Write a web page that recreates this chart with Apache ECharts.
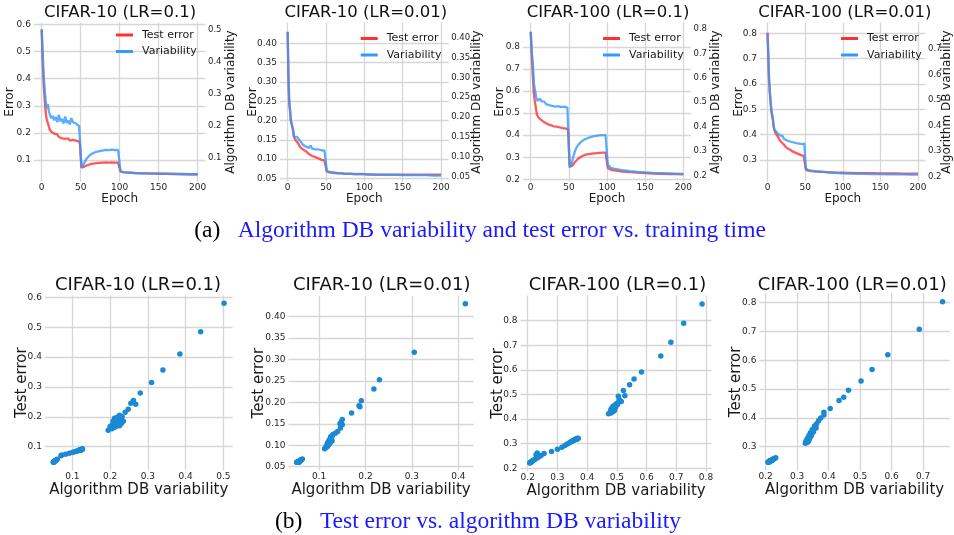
<!DOCTYPE html>
<html><head><meta charset="utf-8">
<script src="https://cdn.jsdelivr.net/npm/echarts@6/dist/echarts.min.js"></script>
<style>html,body{margin:0;padding:0;background:#fff}#c{width:954px;height:535px}</style>
</head><body><div id="c"></div>
<script>
// ---------- DATA ----------
const epochs = [0,1,2,3,4,5,6,7,8,9,10,
  12,14,16,18,20,22,24,26,28,30,32,34,36,38,40,42,44,46,48,
  49,50,51,52,
  54,56,58,60,62,64,66,68,70,72,74,76,78,80,82,84,86,88,90,92,94,96,98,
  99,100,101,102,105,110,
  120,130,140,150,160,170,180,190,200];

const panelTitles = ['CIFAR-10 (LR=0.1)', 'CIFAR-10 (LR=0.01)', 'CIFAR-100 (LR=0.1)', 'CIFAR-100 (LR=0.01)'];

// CIFAR-10, LR=0.1
const errC10a = [0.580,0.485,0.410,0.357,0.315,0.280,0.255,0.245,0.242,0.225,0.215,
  0.205,0.200,0.198,0.192,0.195,0.185,0.190,0.180,0.185,0.178,0.175,0.180,0.172,0.170,0.175,0.168,0.172,0.165,0.168,
  0.160,0.155,0.072,0.070,
  0.075,0.078,0.081,0.083,0.085,0.086,0.087,0.088,0.089,0.089,0.090,0.089,0.091,0.090,0.092,0.090,0.091,0.089,0.092,0.090,0.091,0.089,0.091,
  0.090,0.092,0.058,0.056,0.055,0.054,
  0.052,0.051,0.051,0.050,0.050,0.049,0.049,0.048,0.048];
const varC10a = [0.502,0.440,0.385,0.340,0.310,0.280,0.262,0.255,0.268,0.248,0.240,
  0.225,0.232,0.218,0.228,0.212,0.235,0.215,0.222,0.208,0.230,0.210,0.218,0.205,0.225,0.212,0.215,0.208,0.212,0.200,
  0.205,0.195,0.072,0.070,
  0.082,0.092,0.100,0.106,0.110,0.114,0.116,0.118,0.120,0.121,0.122,0.120,0.124,0.122,0.126,0.121,0.125,0.122,0.127,0.123,0.125,0.121,0.126,
  0.124,0.126,0.060,0.058,0.057,0.056,
  0.054,0.053,0.052,0.052,0.051,0.051,0.050,0.050,0.050];

// CIFAR-10, LR=0.01
const errC10b = [0.430,0.317,0.253,0.231,0.204,0.192,0.190,0.175,0.160,0.155,0.150,
  0.148,0.140,0.132,0.128,0.125,0.122,0.120,0.118,0.113,0.110,0.108,0.106,0.105,0.103,0.102,0.100,0.098,0.097,0.096,
  0.095,0.092,0.068,0.066,
  0.066,0.065,0.065,0.064,0.064,0.064,0.063,0.063,0.063,0.063,0.062,0.062,0.062,0.062,0.062,0.062,0.061,0.061,0.061,0.061,0.061,0.061,0.061,
  0.061,0.061,0.061,0.060,0.060,0.060,
  0.060,0.060,0.060,0.060,0.060,0.060,0.060,0.060,0.060];
const varC10b = [0.415,0.305,0.230,0.218,0.191,0.186,0.188,0.170,0.150,0.148,0.145,
  0.150,0.146,0.140,0.135,0.130,0.128,0.125,0.127,0.122,0.128,0.120,0.124,0.118,0.122,0.118,0.120,0.116,0.118,0.115,
  0.115,0.112,0.064,0.062,
  0.061,0.060,0.060,0.059,0.059,0.059,0.058,0.058,0.058,0.058,0.057,0.057,0.057,0.057,0.057,0.056,0.056,0.056,0.056,0.056,0.056,0.056,0.056,
  0.056,0.056,0.055,0.055,0.055,0.055,
  0.054,0.054,0.054,0.053,0.053,0.053,0.053,0.052,0.052];

// CIFAR-100, LR=0.1
const errC100a = [0.868,0.790,0.712,0.657,0.592,0.563,0.540,0.516,0.495,0.493,0.480,
  0.472,0.468,0.462,0.458,0.455,0.450,0.452,0.445,0.447,0.440,0.442,0.438,0.440,0.435,0.438,0.432,0.436,0.430,0.428,
  0.425,0.422,0.262,0.255,
  0.260,0.268,0.278,0.286,0.293,0.298,0.302,0.306,0.309,0.311,0.313,0.314,0.315,0.316,0.317,0.318,0.318,0.319,0.320,0.319,0.321,0.320,0.321,
  0.320,0.322,0.252,0.247,0.243,0.240,
  0.235,0.232,0.230,0.228,0.226,0.225,0.224,0.223,0.222];
const varC100a = [0.787,0.725,0.682,0.648,0.583,0.558,0.543,0.522,0.527,0.505,0.508,
  0.515,0.505,0.498,0.502,0.492,0.496,0.488,0.494,0.485,0.490,0.482,0.490,0.484,0.492,0.480,0.488,0.482,0.486,0.478,
  0.480,0.472,0.232,0.228,
  0.255,0.280,0.300,0.315,0.325,0.332,0.338,0.343,0.347,0.350,0.353,0.355,0.357,0.359,0.360,0.362,0.363,0.364,0.365,0.366,0.366,0.367,0.367,
  0.368,0.370,0.245,0.238,0.232,0.228,
  0.222,0.218,0.215,0.213,0.211,0.210,0.209,0.208,0.207];

// CIFAR-100, LR=0.01
const errC100b = [0.803,0.708,0.619,0.568,0.528,0.496,0.472,0.460,0.433,0.420,0.410,
  0.400,0.390,0.380,0.372,0.365,0.360,0.352,0.348,0.343,0.340,0.336,0.333,0.330,0.328,0.325,0.322,0.320,0.318,0.316,
  0.315,0.312,0.262,0.259,
  0.258,0.257,0.256,0.256,0.255,0.255,0.254,0.254,0.253,0.253,0.253,0.252,0.252,0.252,0.251,0.251,0.251,0.251,0.250,0.250,0.250,0.250,0.250,
  0.250,0.250,0.250,0.249,0.249,0.249,
  0.248,0.248,0.248,0.247,0.247,0.247,0.246,0.246,0.246];
const varC100b = [0.762,0.688,0.588,0.538,0.503,0.463,0.448,0.433,0.405,0.385,0.385,
  0.375,0.368,0.362,0.355,0.360,0.348,0.352,0.342,0.346,0.338,0.344,0.335,0.340,0.332,0.338,0.330,0.336,0.328,0.334,
  0.330,0.326,0.232,0.228,
  0.226,0.225,0.224,0.223,0.222,0.222,0.221,0.220,0.220,0.219,0.219,0.218,0.218,0.217,0.217,0.216,0.216,0.215,0.215,0.214,0.214,0.214,0.213,
  0.213,0.213,0.213,0.212,0.212,0.212,
  0.211,0.211,0.210,0.210,0.209,0.209,0.209,0.208,0.208];

const testErrors = [errC10a, errC10b, errC100a, errC100b];
const variabilities = [varC10a, varC10b, varC100a, varC100b];

// tick labels
const epochTicks = [0,50,100,150,200];
const topErrTicks = [[0.1,0.2,0.3,0.4,0.5,0.6],[0.05,0.10,0.15,0.20,0.25,0.30,0.35,0.40],[0.2,0.3,0.4,0.5,0.6,0.7,0.8],[0.3,0.4,0.5,0.6,0.7,0.8]];
const topVarTicks = [[0.1,0.2,0.3,0.4,0.5],[0.05,0.10,0.15,0.20,0.25,0.30,0.35,0.40],[0.2,0.3,0.4,0.5,0.6,0.7,0.8],[0.2,0.3,0.4,0.5,0.6,0.7]];
const botXTicks = [[0.1,0.2,0.3,0.4,0.5],[0.1,0.2,0.3,0.4],[0.2,0.3,0.4,0.5,0.6,0.7,0.8],[0.2,0.3,0.4,0.5,0.6,0.7]];
const botYTicks = [[0.1,0.2,0.3,0.4,0.5,0.6],[0.05,0.10,0.15,0.20,0.25,0.30,0.35,0.40],[0.2,0.3,0.4,0.5,0.6,0.7,0.8],[0.3,0.4,0.5,0.6,0.7,0.8]];
const tickDecimals = [1,2,1,1];

// ---------- LAYOUT / STYLE ----------
const FONT = 'DejaVu Sans';
const GRIDC = '#d6d6d6';
const LBL = '#262626';
const RED = '#ff3030', BLUE = '#3399ff', DOT = '#1a8ad4';

const topLayout = [
  {left:33.9, width:171.6, errRange:[0.0214,0.6066], varRange:[0.0275,0.5225], errGap:18, varGap:19, legendLeft:116, legendTop:28, title:120},
  {left:280.0, width:168.7, errRange:[0.042,0.454], varRange:[0.037,0.439], errGap:21, varGap:22.5, legendLeft:360.7, legendTop:31.5, title:365.8},
  {left:523.1, width:167.9, errRange:[0.19,0.91], varRange:[0.176,0.826], errGap:17, varGap:18.5, legendLeft:603, legendTop:31.5, title:608},
  {left:760.0, width:169.4, errRange:[0.215,0.843], varRange:[0.181,0.805], errGap:15, varGap:15.5, legendLeft:841, legendTop:31.5, title:844.8}
];
const botLayout = [
  {left:44.9, top:295.3, width:187.7, height:174.9, x:[0.0274,0.5246], y:[0.0214,0.6066], yGap:15.5, title:138},
  {left:288.4, top:295.9, width:185.3, height:174.4, x:[0.034,0.433], y:[0.0415,0.4485], yGap:22, title:381.7},
  {left:520.6, top:295.5, width:191.0, height:175.9, x:[0.176,0.819], y:[0.1875,0.9025], yGap:14.5, title:617.5},
  {left:759.4, top:293.2, width:190.4, height:177.4, x:[0.180,0.785], y:[0.217,0.833], yGap:15.5, title:852.3}
];

const grids = [], xAxes = [], yAxes = [], series = [], titles = [], legends = [];

function axisBase(extra) {
  return Object.assign({
    type: 'value', scale: true, nameMoveOverlap: false,
    axisLine: {show: false},
    splitLine: {show: true, lineStyle: {color: GRIDC, width: 1.3}}
  }, extra);
}
function lab(ticks, dec, fs, margin) {
  return {customValues: ticks, fontSize: fs, color: LBL, fontFamily: FONT, margin: margin,
          formatter: v => dec === 0 ? String(Math.round(v)) : Number(v).toFixed(dec)};
}

topLayout.forEach((L, i) => {
  grids.push({left: L.left, top: 22.5, width: L.width, height: 159});
  xAxes.push(axisBase({gridIndex: i, min: -10, max: 210,
    axisTick: {show: false, customValues: epochTicks},
    axisLabel: lab(epochTicks, 0, 9, 2),
    name: 'Epoch', nameLocation: 'middle', nameGap: 11,
    nameTextStyle: {fontSize: 12, color: '#1a1a1a', fontFamily: FONT}}));
  const le = yAxes.length;
  yAxes.push(axisBase({gridIndex: i, position: 'left', min: L.errRange[0], max: L.errRange[1],
    axisTick: {show: false, customValues: topErrTicks[i]},
    axisLabel: lab(topErrTicks[i], tickDecimals[i], 9, 3),
    name: 'Error', nameLocation: 'middle', nameRotate: 90, nameGap: L.errGap,
    nameTextStyle: {fontSize: 12, color: '#1a1a1a', fontFamily: FONT}}));
  const ri = yAxes.length;
  yAxes.push(axisBase({gridIndex: i, position: 'right', min: L.varRange[0], max: L.varRange[1],
    splitLine: {show: false},
    axisTick: {show: false, customValues: topVarTicks[i]},
    axisLabel: lab(topVarTicks[i], tickDecimals[i], 8.5, 2.5),
    name: 'Algorithm DB variability', nameLocation: 'middle', nameRotate: 90, nameGap: L.varGap,
    nameTextStyle: {fontSize: 12, color: '#1a1a1a', fontFamily: FONT}}));
  series.push({type: 'line', name: 'Test error', xAxisIndex: i, yAxisIndex: le,
    data: epochs.map((e, k) => [e, testErrors[i][k]]), showSymbol: false, animation: false,
    itemStyle: {color: RED}, lineStyle: {color: RED, width: 2.3, opacity: 0.8}, z: 2});
  series.push({type: 'line', name: 'Variability', xAxisIndex: i, yAxisIndex: ri,
    data: epochs.map((e, k) => [e, variabilities[i][k]]), showSymbol: false, animation: false,
    itemStyle: {color: BLUE}, lineStyle: {color: BLUE, width: 2.3, opacity: 0.8}, z: 3});
  titles.push({text: panelTitles[i], left: L.title, top: 4, textAlign: 'center', padding: 0,
    textStyle: {fontSize: 16.5, fontWeight: 'normal', color: '#111', fontFamily: FONT}});
  legends.push({data: ['Test error', 'Variability'], orient: 'vertical', left: L.legendLeft, top: L.legendTop,
    icon: 'rect', itemWidth: 17, itemHeight: 3, itemGap: 2.5, padding: 0, selectedMode: false,
    textStyle: {fontSize: 11, color: '#1a1a1a', fontFamily: FONT, lineHeight: 14, padding: [0,0,0,4]}});
});

botLayout.forEach((L, i) => {
  const gi = grids.length;
  grids.push({left: L.left, top: L.top, width: L.width, height: L.height});
  xAxes.push(axisBase({gridIndex: gi, min: L.x[0], max: L.x[1],
    axisTick: {show: false, customValues: botXTicks[i]},
    axisLabel: lab(botXTicks[i], 1, 9, 2),
    name: 'Algorithm DB variability', nameLocation: 'middle', nameGap: 12,
    nameTextStyle: {fontSize: 15, color: '#1a1a1a', fontFamily: FONT}}));
  const yi = yAxes.length;
  yAxes.push(axisBase({gridIndex: gi, position: 'left', min: L.y[0], max: L.y[1],
    axisTick: {show: false, customValues: botYTicks[i]},
    axisLabel: lab(botYTicks[i], tickDecimals[i], 9, 3),
    name: 'Test error', nameLocation: 'middle', nameRotate: 90, nameGap: L.yGap,
    nameTextStyle: {fontSize: 15, color: '#1a1a1a', fontFamily: FONT}}));
  series.push({type: 'scatter', name: 'epochs', xAxisIndex: gi, yAxisIndex: yi, animation: false,
    data: variabilities[i].map((v, k) => [v, testErrors[i][k]]),
    symbolSize: 5.5, itemStyle: {color: DOT, opacity: 1}});
  titles.push({text: panelTitles[i], left: L.title, top: 276, textAlign: 'center', padding: 0,
    textStyle: {fontSize: 18, fontWeight: 'normal', color: '#111', fontFamily: FONT}});
});

const CAP = 'Liberation Serif';
const capRich = {k: {fontSize: 23.5, fontWeight: 'normal', color: '#000', fontFamily: CAP},
                 b: {fontSize: 23.5, fontWeight: 'normal', color: '#1a1aff', fontFamily: CAP}};
titles.push({text: '{k|(a)}   {b|Algorithm DB variability and test error vs. training time}', left: 480, top: 219, textAlign: 'center', padding: 0,
  textStyle: {fontWeight: 'normal', fontSize: 23.5, fontFamily: CAP, rich: capRich}});
titles.push({text: '{k|(b)}   {b|Test error vs. algorithm DB variability}', left: 478, top: 510, textAlign: 'center', padding: 0,
  textStyle: {fontWeight: 'normal', fontSize: 23.5, fontFamily: CAP, rich: capRich}});

const chart = echarts.init(document.getElementById('c'), null, {renderer: 'canvas'});
chart.setOption({
  backgroundColor: '#fff', animation: false,
  title: titles, legend: legends, grid: grids, xAxis: xAxes, yAxis: yAxes, series: series
});
</script></body></html>
